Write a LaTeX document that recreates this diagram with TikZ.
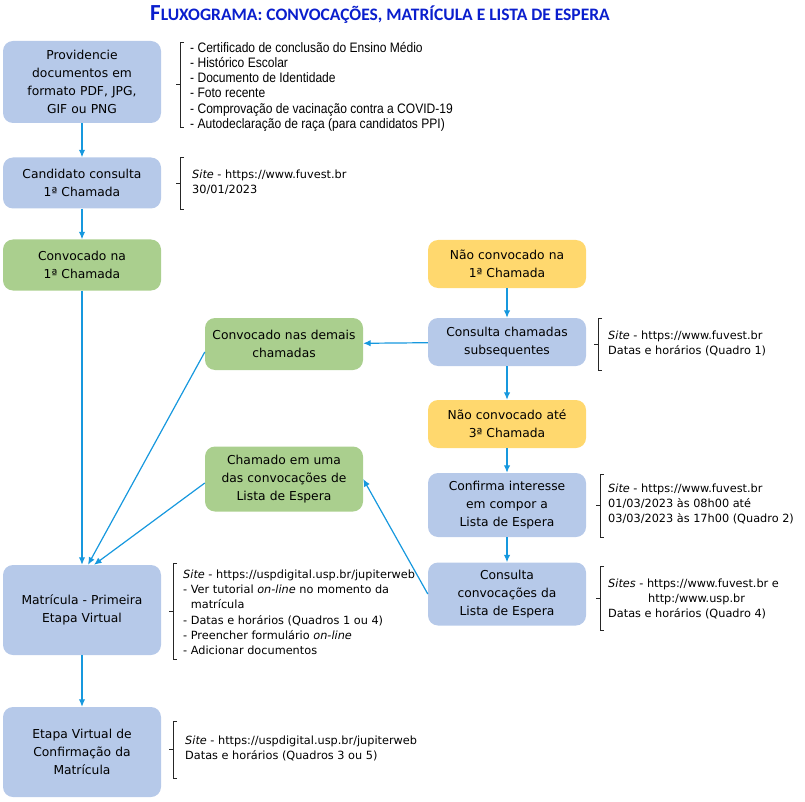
\documentclass[tikz,border=0pt]{standalone}
\usepackage{fontspec}
\setmainfont{DejaVu Sans}
\newfontfamily\titlefont{Carlito}
\newfontfamily\listfont[FakeStretch=0.88]{Liberation Sans}
\usetikzlibrary{arrows.meta}

\definecolor{boxblue}{RGB}{182,201,233}
\definecolor{boxgreen}{RGB}{170,207,142}
\definecolor{boxorange}{RGB}{255,216,110}
\definecolor{arrowblue}{RGB}{22,152,222}
\definecolor{titleblue}{RGB}{10,30,205}

\begin{document}
\begin{tikzpicture}[x=1pt,y=-1pt,
    box/.style={rounded corners=10pt, minimum width=158pt, text width=154pt, inner sep=2pt,
        align=center, font=\fontsize{12.3}{18}\selectfont},
    bluebox/.style={box, fill=boxblue},
    greenbox/.style={box, fill=boxgreen},
    orangebox/.style={box, fill=boxorange},
    note/.style={anchor=north west, inner sep=0pt, align=left, font=\fontsize{11.3}{15.3}\selectfont},
    brk/.style={line width=0.8pt, black!85},
    arr/.style={arrowblue, line width=1.2pt, -{Latex[length=7.5pt,width=6.5pt]}}]

    \useasboundingbox (0,0) rectangle (805,802);

    % title
    \node[font=\titlefont\bfseries, text=titleblue] (title) at (380,15)
        {\fontsize{23}{23}\selectfont F\fontsize{17.5}{17.5}\selectfont LUXOGRAMA: CONVOCAÇÕES, MATRÍCULA E LISTA DE ESPERA};

    % left column
    \node[bluebox, minimum height=82pt] (docs) at (82,82) {Providencie\\documentos em\\formato PDF, JPG,\\GIF ou PNG};
    \node[bluebox, minimum height=51pt] (consulta) at (82,183) {Candidato consulta\\1ª Chamada};
    \node[greenbox, minimum height=51pt] (conv1) at (82,265) {Convocado na\\1ª Chamada};
    \node[bluebox, minimum height=90pt] (matricula) at (82,610) {Matrícula - Primeira\\Etapa Virtual};
    \node[bluebox, minimum height=90pt] (etapa) at (82,752) {Etapa Virtual de\\Confirmação da\\Matrícula};

    % middle column
    \node[greenbox, minimum height=52pt] (demais) at (284,344) {Convocado nas demais\\chamadas};
    \node[greenbox, minimum height=65pt] (chamado) at (284,479) {Chamado em uma\\das convocações de\\Lista de Espera};

    % right column
    \node[orangebox, minimum height=48pt] (naoconv1) at (507,264) {Não convocado na\\1ª Chamada};
    \node[bluebox, minimum height=48pt] (subseq) at (507,342) {Consulta chamadas\\subsequentes};
    \node[orangebox, minimum height=48pt] (naoconv3) at (507,424) {Não convocado até\\3ª Chamada};
    \node[bluebox, minimum height=64pt] (confirma) at (507,505) {Confirma interesse\\em compor a\\Lista de Espera};
    \node[bluebox, minimum height=63pt] (convlista) at (507,594) {Consulta\\convocações da\\Lista de Espera};

    % side notes
    \node[note, font=\listfont\fontsize{13.7}{15.2}\selectfont] (docsnote) at (190,42)
        {- Certificado de conclusão do Ensino Médio\\- Histórico Escolar\\- Documento de Identidade\\- Foto recente\\- Comprovação de vacinação contra a COVID-19\\- Autodeclaração de raça (para candidatos PPI)};
    \node[note] (consnote) at (192,169.6) {\textit{Site} - https://www.fuvest.br\\30/01/2023};
    \node[note] (subseqnote) at (608,330.6) {\textit{Site} - https://www.fuvest.br\\Datas e horários (Quadro 1)};
    \node[note] (confnote) at (608,483.6) {\textit{Site} - https://www.fuvest.br\\01/03/2023 às 08h00 até\\03/03/2023 às 17h00 (Quadro 2)};
    \node[note] (convlnote) at (608,578.6) {\textit{Sites} - https://www.fuvest.br e\\\hspace*{40pt}http:/www.usp.br\\Datas e horários (Quadro 4)};
    \node[note] (matrnote) at (183,569.6) {\textit{Site} - https://uspdigital.usp.br/jupiterweb\\- Ver tutorial \textit{on-line} no momento da\\\hphantom{-}\ matrícula\\- Datas e horários (Quadros 1 ou 4)\\- Preencher formulário \textit{on-line}\\- Adicionar documentos};
    \node[note] (etapanote) at (185,735.6) {\textit{Site} - https://uspdigital.usp.br/jupiterweb\\Datas e horários (Quadros 3 ou 5)};

    % brackets
    \foreach \bx/\bt/\bb in {180/42/127, 180/157/209, 598/318/370, 600/474/537, 600/566/630, 173/563/659, 173/721/778}
        \draw[brk] (\bx+4,\bt) -- (\bx,\bt) -- (\bx,\bb) -- (\bx+4,\bb)
            (\bx,{(\bt+\bb)/2}) -- (\bx-4,{(\bt+\bb)/2});

    % arrows
    \draw[arr] (docs) -- (consulta);
    \draw[arr] (consulta) -- (conv1);
    \draw[arr] (conv1) -- (matricula);
    \draw[arr] (matricula) -- (etapa);
    \draw[arr] (naoconv1) -- (subseq);
    \draw[arr] (subseq) -- (naoconv3);
    \draw[arr] (naoconv3) -- (confirma);
    \draw[arr] (confirma) -- (convlista);
    \draw[arr] (subseq) -- (demais);
    \draw[arr] ([yshift=-8pt]demais.west) -- ([xshift=6pt]matricula.north);
    \draw[arr] ([yshift=-4pt]chamado.west) -- ([xshift=12pt]matricula.north);
    \draw[arr] (convlista.west) -- (chamado.east);
\end{tikzpicture}
\end{document}
